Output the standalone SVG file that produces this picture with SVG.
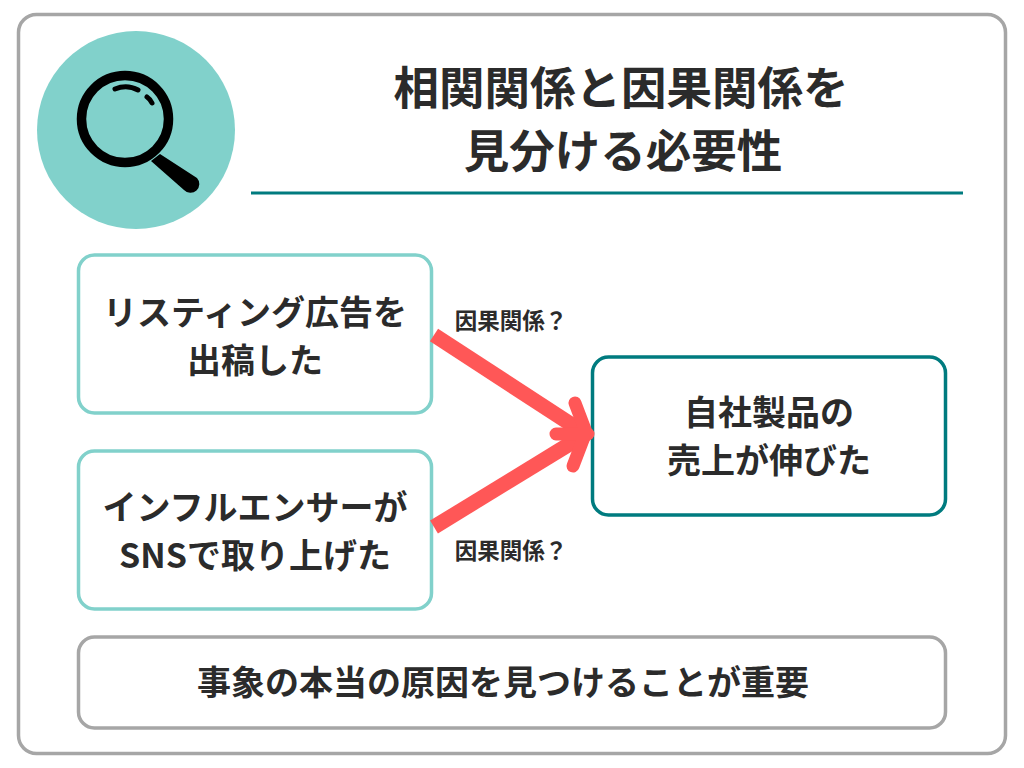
<svg xmlns="http://www.w3.org/2000/svg" width="1024" height="768" viewBox="0 0 1024 768">
<style>
text{font-family:"Noto Sans CJK JP","Noto Sans",sans-serif;font-weight:700;fill:#2b2b2b;text-anchor:middle}
.t{font-size:45.500px}.b{font-size:34px}.s{font-size:22.500px}
.box{fill:#fff;stroke-width:3.500px}
</style>
<rect width="1024" height="768" fill="#fff"/>
<rect x="18.500" y="14.500" width="987" height="739" rx="18" fill="#fff" stroke="#a6a6a6" stroke-width="3.500"/>
<g id="icon">
<circle cx="136" cy="130" r="99" fill="#81d1cb"/>
<path d="M160 154L151 161L184 190A8.500 8.500 0 0 0 197 178Z" fill="#000"/>
<circle cx="125" cy="119" r="43.500" fill="none" stroke="#000" stroke-width="9.500"/>
<path d="M115 89Q127 84 138 90M147 97Q150 99 152 103" fill="none" stroke="#000" stroke-width="5" stroke-linecap="round"/>
</g>
<g id="title">
<text class="t" x="621" y="105">相関関係と因果関係を</text>
<text class="t" x="623" y="168">見分ける必要性</text>
<line x1="251" y1="193" x2="963" y2="193" stroke="#007b7f" stroke-width="3"/>
</g>
<g id="node1"><rect class="box" x="78.500" y="255" width="353" height="158" rx="16" stroke="#81d1cb"/>
<text class="b" x="255" y="325">リスティング広告を</text><text class="b" x="255" y="373">出稿した</text></g>
<g id="node2"><rect class="box" x="78.500" y="451" width="353" height="158" rx="16" stroke="#81d1cb"/>
<text class="b" x="255" y="520">インフルエンサーが</text><text class="b" x="255" y="568">SNSで取り上げた</text></g>
<g id="node3"><rect class="box" x="592.500" y="357" width="353" height="158" rx="16" stroke="#007b7f"/>
<text class="b" x="769" y="425">自社製品の</text><text class="b" x="769" y="473">売上が伸びた</text></g>
<g id="node4"><rect class="box" x="78.500" y="637" width="867" height="91" rx="16" stroke="#a6a6a6"/>
<text class="b" x="503" y="695">事象の本当の原因を見つけることが重要</text></g>
<g id="connectors" fill="none" stroke="#ff5757" stroke-width="15">
<path d="M434 335L586 434"/>
<path d="M434 527L586 434"/>
<path d="M575 403L586 432L573 466M556 434H588" stroke-linecap="round" stroke-linejoin="round" stroke-width="13"/>
</g>
<g id="labels">
<text class="s" x="511" y="329">因果関係？</text>
<text class="s" x="511" y="559">因果関係？</text>
</g>
</svg>
